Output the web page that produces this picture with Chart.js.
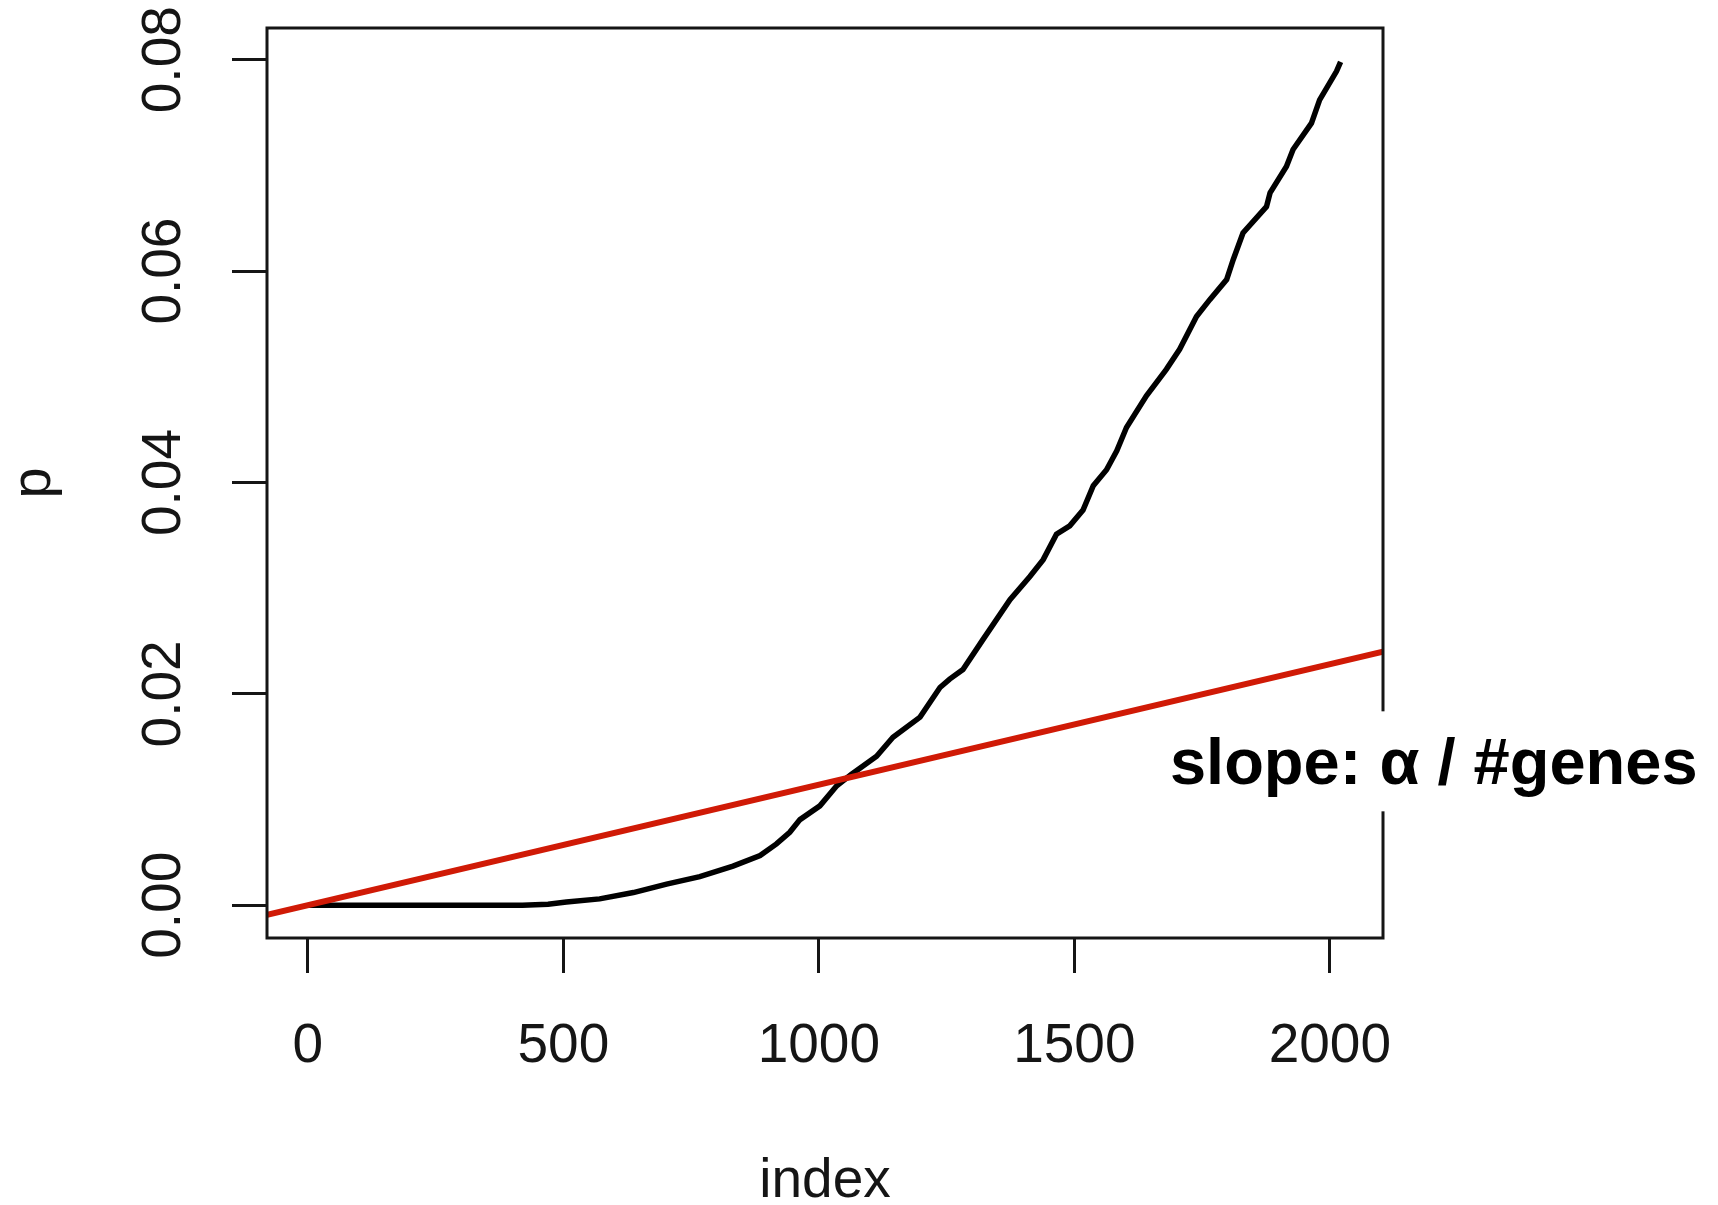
<!DOCTYPE html>
<html>
<head>
<meta charset="utf-8">
<title>p by index</title>
<script src="https://cdn.jsdelivr.net/npm/chart.js@4.4.1/dist/chart.umd.min.js"></script>
<style>
  html, body { margin: 0; padding: 0; background: #fff; }
  canvas { display: block; }
</style>
</head>
<body>
<canvas id="pChart" width="1718" height="1205"></canvas>
<script>
// sorted p values
let indexValues = [1, 420, 470, 506, 571, 637, 702, 767, 832, 885,
    917, 943, 963, 1002, 1035, 1064, 1113, 1145, 1198, 1237,
    1256, 1282, 1322, 1374, 1413, 1439, 1465, 1491, 1517, 1537,
    1563, 1583, 1602, 1641, 1680, 1706, 1739, 1765, 1798, 1811,
    1830, 1876, 1883, 1915, 1928, 1964, 1980, 2013, 2021]
let pValues = [0, 0, 0.0001, 0.0003, 0.0006, 0.0012, 0.0020, 0.0027, 0.0037, 0.0047,
    0.0058, 0.0069, 0.0081, 0.0094, 0.0113, 0.0124, 0.0141, 0.0159, 0.0178, 0.0206,
    0.0214, 0.0223, 0.0252, 0.0289, 0.0311, 0.0327, 0.0351, 0.0359, 0.0374, 0.0397,
    0.0412, 0.0430, 0.0452, 0.0482, 0.0507, 0.0526, 0.0557, 0.0573, 0.0592, 0.0611,
    0.0636, 0.0661, 0.0674, 0.0699, 0.0715, 0.0740, 0.0762, 0.0789, 0.0798]

// red line (slope alpha / #genes), its two ends at the plot edges
let slopeLineIndex = [-80, 2104]
let slopeLineP = [-0.00091, 0.0240]

// axes
let xTicks = [0, 500, 1000, 1500, 2000]
let yTicks = [0, 0.02, 0.04, 0.06, 0.08]
let xTitle = 'index'
let yTitle = 'p'
let noteText = 'slope: α / #genes'

const FONT = '"Liberation Sans", Arial, Helvetica, sans-serif'
const INK = '#151515'

function toPoints(xs, ys) {
    return xs.map((x, i) => ({ x: x, y: ys[i] }))
}

// box round the plot + the slope note on a white patch
const frameAndNote = {
    id: 'frameAndNote',
    afterDraw(chart) {
        const { ctx, chartArea: a, scales } = chart
        ctx.save()
        ctx.strokeStyle = INK
        ctx.lineWidth = 3
        ctx.strokeRect(a.left, a.top, a.right - a.left, a.bottom - a.top)

        ctx.font = 'bold 65px ' + FONT
        ctx.textBaseline = 'alphabetic'
        let tx = scales.x.getPixelForValue(1687)
        let ty = scales.y.getPixelForValue(0.01144)
        ctx.fillStyle = '#fff'
        ctx.fillRect(tx - 10, ty - 73, chart.width - tx + 10, 100)
        ctx.fillStyle = '#000'
        ctx.fillText(noteText, tx, ty)
        ctx.restore()
    }
}

let tickGrid = {
    display: true,
    drawOnChartArea: false,
    drawTicks: true,
    tickLength: 35,
    tickWidth: 3,
    tickColor: INK
}

var ctx = document.getElementById('pChart').getContext('2d')
var pChart = new Chart(ctx, {
    type: 'line',
    data: {
        datasets: [
            {
                label: 'slope',
                data: toPoints(slopeLineIndex, slopeLineP),
                borderColor: 'rgb(208, 26, 6)',
                borderWidth: 6,
                pointRadius: 0,
                tension: 0,
                clip: 0,
                order: 0
            },
            {
                label: 'p',
                data: toPoints(indexValues, pValues),
                borderColor: '#000',
                borderWidth: 5.5,
                pointRadius: 0,
                tension: 0,
                clip: 0,
                order: 1
            }
        ]
    },
    options: {
        responsive: false,
        animation: false,
        devicePixelRatio: 1,
        layout: { padding: { left: 0, top: 28, right: 335, bottom: 0 } },
        plugins: {
            legend: { display: false },
            tooltip: { enabled: false }
        },
        scales: {
            x: {
                type: 'linear',
                min: -80,
                max: 2104,
                afterBuildTicks: s => { s.ticks = xTicks.map(v => ({ value: v })) },
                afterFit: s => { s.height = 267; s.paddingLeft = 0; s.paddingRight = 0 },
                grid: tickGrid,
                border: { display: false },
                ticks: {
                    color: INK,
                    font: { family: FONT, size: 55, lineHeight: 1.2 },
                    padding: 41,
                    autoSkip: false,
                    minRotation: 0,
                    maxRotation: 0,
                    callback: v => String(v)
                },
                title: {
                    display: true,
                    text: xTitle,
                    color: INK,
                    font: { family: FONT, size: 55, lineHeight: 1 },
                    padding: { top: 0, bottom: -4.5 }
                }
            },
            y: {
                type: 'linear',
                min: -0.0031,
                max: 0.083,
                afterBuildTicks: s => { s.ticks = yTicks.map(v => ({ value: v })) },
                afterFit: s => { s.width = 267; s.paddingTop = 0; s.paddingBottom = 0 },
                grid: tickGrid,
                border: { display: false },
                ticks: {
                    color: INK,
                    font: { family: FONT, size: 55, lineHeight: 1.2 },
                    padding: 14,
                    crossAlign: 'center',
                    autoSkip: false,
                    minRotation: 90,
                    maxRotation: 90,
                    callback: v => v.toFixed(2)
                },
                title: {
                    display: true,
                    text: yTitle,
                    color: INK,
                    font: { family: FONT, size: 56, lineHeight: 1 },
                    padding: { top: 7, bottom: 0 }
                }
            }
        }
    },
    plugins: [frameAndNote]
})
</script>
</body>
</html>
